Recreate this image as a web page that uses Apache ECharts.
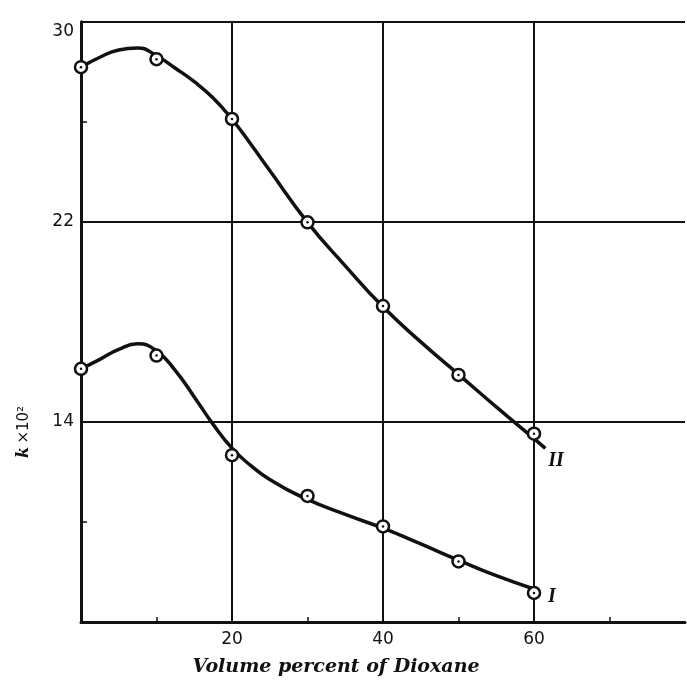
<!DOCTYPE html>
<html>
<head>
<meta charset="utf-8">
<script src="https://cdn.jsdelivr.net/npm/echarts@6/dist/echarts.min.js"></script>
<style>
html,body{margin:0;padding:0;background:#fff;}
#chart{width:687px;height:682px;}
</style>
</head>
<body>
<div id="chart"></div>
<script>
// measured points (open circles)
const pointX = [0, 10, 20, 30, 40, 50, 60];
const pointsII = [28.18, 28.50, 26.11, 21.98, 18.63, 15.88, 13.53];
const pointsI = [16.12, 16.65, 12.67, 11.04, 9.82, 8.42, 7.16];

// drawn smooth curves
const curveIIx = [0, 2.5, 5, 7.5, 10, 12.5, 15, 17.5, 20, 22.5, 25, 30, 35, 40, 45, 50, 55, 60, 61.5];
const curveIIy = [28.18, 28.58, 28.87, 28.95, 28.64, 28.14, 27.6, 26.95, 26.1, 25.1, 24.05, 21.98, 20.24, 18.6, 17.2, 15.9, 14.6, 13.33, 12.94];
const curveIx = [0, 2.5, 5, 7.5, 10, 12.5, 15, 17.5, 20, 22.5, 25, 30, 35, 40, 45, 50, 55, 60];
const curveIy = [16.12, 16.5, 16.9, 17.12, 16.84, 16.05, 15.0, 13.9, 12.95, 12.25, 11.7, 10.9, 10.3, 9.75, 9.12, 8.47, 7.85, 7.32];

// axes
const xLabels = [20, 40, 60];
const xMinorTicks = [10, 30, 50, 70];
const yLabels = [14, 22, 30];
const yMinorTicks = [10, 26];
const gridX = [20, 40, 60];
const gridY = [14, 22, 30];

const zip = (xs, ys) => xs.map((x, i) => [x, ys[i]]);

const chart = echarts.init(document.getElementById('chart'), null, {renderer: 'canvas'});

const black = '#111';
const gridLines = gridY.map(v => ({yAxis: v})).concat(gridX.map(v => ({xAxis: v})));

const option = {
  animation: false,
  backgroundColor: '#fff',
  grid: {left: 81, right: 2, top: 21.7, bottom: 54, containLabel: false},
  xAxis: {
    type: 'value', min: 0, max: 80,
    axisLine: {show: true, onZero: false, lineStyle: {color: black, width: 3}},
    axisTick: {show: true, inside: true, length: 5, customValues: xMinorTicks, lineStyle: {color: black, width: 1.5}},
    axisLabel: {show: true, customValues: xLabels, margin: 9, color: black, fontSize: 17, fontFamily: 'DejaVu Sans'},
    splitLine: {show: false},
    name: 'Volume percent of Dioxane',
    nameLocation: 'middle', nameGap: 36,
    nameTextStyle: {fontFamily: 'DejaVu Serif', fontStyle: 'italic', fontWeight: 'bold', fontSize: 19, color: black,
      padding: [0, 94, 0, 0]}
  },
  yAxis: {
    type: 'value', min: 6, max: 30,
    axisLine: {show: true, onZero: false, lineStyle: {color: black, width: 3}},
    axisTick: {show: true, inside: true, length: 6, customValues: yMinorTicks, lineStyle: {color: black, width: 1.5}},
    axisLabel: {show: true, customValues: yLabels, margin: 7, color: black, fontSize: 17, fontFamily: 'DejaVu Sans',
      formatter: v => (v === 30 ? '{low|30}' : String(v)),
      rich: {low: {fontSize: 17, fontFamily: 'DejaVu Sans', color: black, padding: [20, 0, 0, 0]}}},
    splitLine: {show: false}
  },
  graphic: [{
    type: 'text',
    x: 24, y: 432,
    rotation: Math.PI / 2,
    style: {
      text: '{k|k} {t|×10²}',
      align: 'center', verticalAlign: 'middle',
      rich: {
        k: {fontFamily: 'DejaVu Serif', fontStyle: 'italic', fontWeight: 'bold', fontSize: 16, fill: black},
        t: {fontFamily: 'DejaVu Sans', fontSize: 15, fill: black}
      }
    }
  }],
  series: [
    {
      name: 'grid', type: 'line', data: [], silent: true,
      markLine: {
        silent: true, symbol: 'none', animation: false,
        label: {show: false},
        lineStyle: {color: black, width: 2, type: 'solid'},
        data: gridLines
      }
    },
    {
      name: 'II curve', type: 'line', data: zip(curveIIx, curveIIy),
      smooth: 0.5, showSymbol: false, symbol: 'none',
      lineStyle: {color: black, width: 3.5},
      endLabel: {show: true, formatter: 'II', offset: [-2, 12], distance: 5,
        fontFamily: 'Liberation Serif', fontStyle: 'italic', fontWeight: 'bold', fontSize: 20, color: black}
    },
    {
      name: 'I curve', type: 'line', data: zip(curveIx, curveIy),
      smooth: 0.5, showSymbol: false, symbol: 'none',
      lineStyle: {color: black, width: 3.5},
      endLabel: {show: true, formatter: 'I', offset: [9, 8], distance: 5,
        fontFamily: 'Liberation Serif', fontStyle: 'italic', fontWeight: 'bold', fontSize: 20, color: black}
    },
    {
      name: 'II points', type: 'scatter', data: zip(pointX, pointsII), z: 5,
      symbol: 'circle', symbolSize: 12,
      itemStyle: {color: '#fff', borderColor: black, borderWidth: 2.5, opacity: 1}
    },
    {
      name: 'I points', type: 'scatter', data: zip(pointX, pointsI), z: 5,
      symbol: 'circle', symbolSize: 12,
      itemStyle: {color: '#fff', borderColor: black, borderWidth: 2.5, opacity: 1}
    },
    {
      name: 'II dots', type: 'scatter', data: zip(pointX, pointsII), z: 6,
      symbol: 'circle', symbolSize: 2.5, itemStyle: {color: black, opacity: 1}
    },
    {
      name: 'I dots', type: 'scatter', data: zip(pointX, pointsI), z: 6,
      symbol: 'circle', symbolSize: 2.5, itemStyle: {color: black, opacity: 1}
    }
  ]
};
chart.setOption(option);
</script>
</body>
</html>
